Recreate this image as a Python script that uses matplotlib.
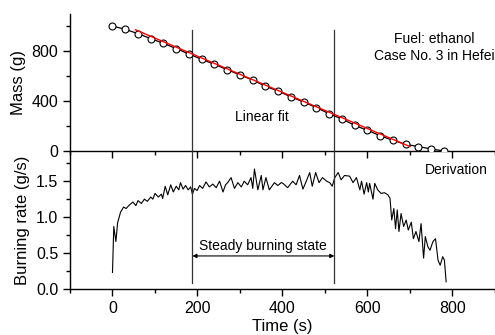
import numpy as np
import matplotlib
matplotlib.use('Agg')
from matplotlib import pyplot as plt
from matplotlib.ticker import MultipleLocator

plt.rcParams['font.family'] = ['Liberation Sans', 'DejaVu Sans']

# masa medida cada 30 s
mass_time = [0, 30, 60, 90, 120, 150, 180, 210, 240, 270, 300, 330, 360, 390,
             420, 450, 480, 510, 540, 570, 600, 630, 660, 690, 720, 750, 780]
mass = [1000, 973, 939, 899, 861, 819, 776, 733, 693, 651, 608, 568, 517, 480,
        432, 392, 346, 298, 256, 205, 165, 122, 85, 53, 35, 16, 0]

# ajuste lineal (pendiente, ordenada) y su rango
fit_slope = -1.447
fit_intercept = 1048
fit_range = [54, 700]

# tasa de combustion (derivada)
rate_time = [0, 3, 8, 12, 19, 26, 32, 40, 48, 55, 60, 68, 75, 82, 90, 95, 100,
             108, 115, 118, 124, 130, 137, 143, 150, 156, 160, 166, 172, 178,
             184, 188, 193, 199, 205, 212, 220, 228, 236, 244, 252, 260, 266,
             271, 279, 287, 295, 303, 310, 318, 326, 330, 334, 342, 350, 354,
             361, 369, 381, 389, 397, 401, 412, 424, 432, 440, 448, 456, 464,
             470, 478, 486, 494, 504, 511, 517, 523, 531, 538, 546, 558, 566,
             574, 582, 586, 592, 598, 602, 605, 613, 617, 624, 632, 640, 648,
             653, 657, 662, 666, 670, 674, 679, 685, 691, 696, 703, 708, 714,
             721, 726, 732, 736, 742, 747, 754, 760, 766, 771, 777, 781, 785]
rate = [0.23, 0.87, 0.66, 0.92, 1.07, 1.14, 1.12, 1.17, 1.21, 1.16, 1.23, 1.19,
        1.25, 1.22, 1.28, 1.25, 1.33, 1.28, 1.32, 1.26, 1.43, 1.31, 1.45, 1.35,
        1.43, 1.38, 1.48, 1.39, 1.44, 1.38, 1.42, 1.32, 1.40, 1.37, 1.44, 1.40,
        1.49, 1.42, 1.46, 1.41, 1.50, 1.35, 1.45, 1.48, 1.55, 1.40, 1.48, 1.42,
        1.50, 1.45, 1.55, 1.40, 1.67, 1.38, 1.58, 1.38, 1.55, 1.38, 1.48, 1.44,
        1.48, 1.47, 1.41, 1.50, 1.45, 1.58, 1.39, 1.50, 1.62, 1.43, 1.62, 1.48,
        1.55, 1.50, 1.48, 1.43, 1.55, 1.62, 1.52, 1.58, 1.57, 1.48, 1.55, 1.38,
        1.50, 1.32, 1.48, 1.35, 1.47, 1.25, 1.47, 1.38, 1.33, 1.34, 1.31, 1.26,
        0.96, 1.12, 0.84, 1.10, 0.80, 1.05, 0.87, 0.96, 0.82, 0.93, 0.70, 0.80,
        0.66, 0.91, 0.43, 0.73, 0.59, 0.54, 0.66, 0.70, 0.40, 0.33, 0.45, 0.40,
        0.10]

# limites del estado estacionario
steady = [188, 522]

fig = plt.figure(figsize=(4.95, 3.35), dpi=100)
ax1 = fig.add_axes([0.1414, 0.5493, 0.8586, 0.4104])
ax2 = fig.add_axes([0.1414, 0.1373, 0.8586, 0.4119])

for ax in (ax1, ax2):
    ax.set_xlim(-100, 900)
    ax.spines['right'].set_visible(False)
    ax.spines['top'].set_visible(False)
    for s in ('left', 'bottom'):
        ax.spines[s].set_linewidth(1.0)
    ax.xaxis.set_major_locator(MultipleLocator(200))
    ax.xaxis.set_minor_locator(MultipleLocator(100))
    ax.tick_params(which='major', direction='out', length=5, width=1.0, labelsize=11.5)
    ax.tick_params(which='minor', direction='out', length=3, width=1.0)
    ax.patch.set_alpha(0)

# panel de masa
ax1.plot(mass_time, mass, '-o', color='k', lw=0.9, ms=5, mfc='white', mec='k', mew=0.8, zorder=3)
fx = np.array(fit_range)
ax1.plot(fx, fit_intercept + fit_slope * fx, color='red', lw=1.0, zorder=4)
ax1.set_ylim(0, 1100)
ax1.yaxis.set_major_locator(MultipleLocator(400))
ax1.yaxis.set_minor_locator(MultipleLocator(200))
ax1.tick_params(axis='x', labelbottom=False)
ax1.set_ylabel('Mass (g)', fontsize=12, labelpad=4)
for x in steady:
    ax1.plot([x, x], [0, 970], color='#333333', lw=0.9, zorder=2)
ax1.text(352, 272, 'Linear fit', fontsize=10, ha='center', va='center')
ax1.text(758, 894, 'Fuel: ethanol', fontsize=10, ha='center', va='center')
ax1.text(758, 760, 'Case No. 3 in Hefei', fontsize=10, ha='center', va='center')

# panel de tasa de combustion
ax2.plot(rate_time, rate, color='k', lw=0.8)
ax2.set_ylim(0, 1.92)
ax2.yaxis.set_major_locator(MultipleLocator(0.5))
ax2.yaxis.set_minor_locator(MultipleLocator(0.25))
ax2.yaxis.set_major_formatter(matplotlib.ticker.FormatStrFormatter('%.1f'))
ax2.set_ylabel('Burning rate (g/s)', fontsize=12, labelpad=4)
ax2.set_xlabel('Time (s)', fontsize=12, labelpad=2)
for x in steady:
    ax2.plot([x, x], [0.08, 1.92], color='#333333', lw=0.9, zorder=2)
ax2.annotate('', xy=(steady[0], 0.46), xytext=(steady[1], 0.46),
             arrowprops=dict(arrowstyle='<|-|>', color='k', lw=0.8,
                             mutation_scale=6, shrinkA=0, shrinkB=0))
ax2.text(354, 0.60, 'Steady burning state', fontsize=10, ha='center', va='center')
ax2.text(810, 1.66, 'Derivation', fontsize=10, ha='center', va='center')

fig.savefig('out.png', dpi=100)
